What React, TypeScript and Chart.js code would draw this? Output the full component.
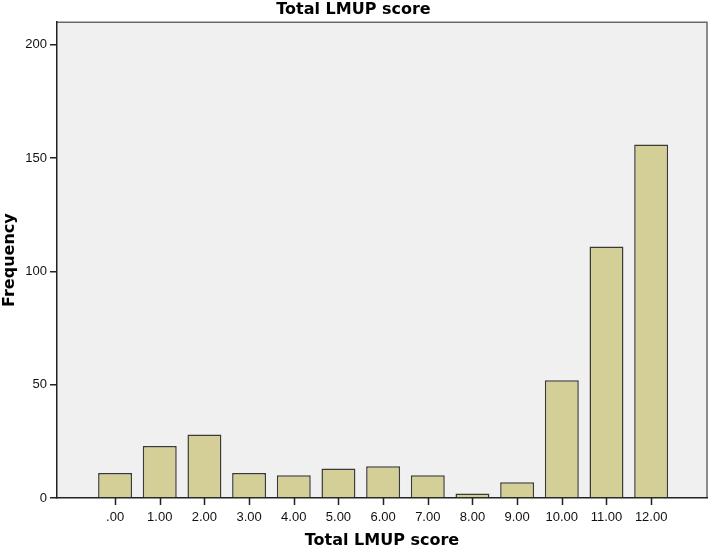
import React, { useEffect, useRef } from "react";
import { Chart, registerables } from "chart.js";

Chart.register(...registerables);

const categories = [0, 1, 2, 3, 4, 5, 6, 7, 8, 9, 10, 11, 12];
const frequencies = [11, 23, 28, 11, 10, 13, 14, 10, 2, 7, 52, 111, 156];
const yTicks = [0, 50, 100, 150, 200];
const formatCat = (v: number) => (v === 0 ? ".00" : v.toFixed(2));

const ARIAL = "'Liberation Sans', Arial, sans-serif";
const DEJAVU = "'DejaVu Sans', Verdana, sans-serif";

const plotFrame = {
  id: "plotFrame",
  beforeDraw(chart: any) {
    const { ctx, chartArea } = chart;
    const { left, top, right, bottom } = chartArea;
    ctx.save();
    ctx.fillStyle = "#f0f0f0";
    ctx.fillRect(left, top, right - left, bottom - top);
    ctx.strokeStyle = "#6a6a6a";
    ctx.lineWidth = 1.5;
    ctx.beginPath();
    ctx.moveTo(left, top);
    ctx.lineTo(right, top);
    ctx.lineTo(right, bottom);
    ctx.stroke();
    ctx.restore();
  },
  afterDraw(chart: any) {
    const { ctx, chartArea } = chart;
    const xs = chart.scales.x;
    ctx.save();
    ctx.strokeStyle = "#222";
    ctx.lineWidth = 1.5;
    ctx.beginPath();
    categories.forEach((c) => {
      const px = Math.round(xs.getPixelForValue(c)) + 0.5;
      ctx.moveTo(px, chartArea.bottom);
      ctx.lineTo(px, chartArea.bottom + 7);
    });
    ctx.stroke();
    ctx.restore();
  },
};

export default function App() {
  const ref = useRef<HTMLCanvasElement | null>(null);
  useEffect(() => {
    document.body.style.margin = "0";
    const canvas = ref.current!;
    const chart = new Chart(canvas, {
      type: "bar",
      data: {
        datasets: [
          {
            label: "Frequency",
            data: categories.map((c, i) => ({ x: c, y: frequencies[i] })),
            backgroundColor: "#d3cf97",
            borderColor: "#3a3a3a",
            borderWidth: 1.5,
            barPercentage: 0.76,
            categoryPercentage: 1,
          },
        ],
      },
      options: {
        responsive: false,
        animation: false,
        layout: { padding: { left: 0, right: 2, top: 0, bottom: 0 } },
        plugins: {
          legend: { display: false },
          tooltip: { enabled: false },
          title: {
            display: true,
            text: "Total LMUP score",
            color: "#000",
            font: { family: DEJAVU, size: 16, weight: "bold" },
            padding: { top: 0, bottom: 3 },
          },
        },
        scales: {
          x: {
            type: "linear",
            offset: false,
            min: -1.3,
            max: 13.25,
            afterBuildTicks: (scale: any) => {
              scale.ticks = categories.map((v) => ({ value: v }));
            },
            afterFit: (scale: any) => {
              scale.height = 52;
            },
            ticks: {
              autoSkip: false,
              maxRotation: 0,
              color: "#111",
              padding: 5,
              font: { family: ARIAL, size: 13 },
              callback: (v: any) => formatCat(Number(v)),
            },
            grid: {
              display: false,
              drawOnChartArea: false,
              tickLength: 7,
            },
            border: { display: true, color: "#222", width: 1.5 },
            title: {
              display: true,
              text: "Total LMUP score",
              color: "#000",
              font: { family: DEJAVU, size: 16, weight: "bold" },
              padding: { top: 0, bottom: 0 },
            },
          },
          y: {
            min: 0,
            max: 210,
            afterBuildTicks: (scale: any) => {
              scale.ticks = yTicks.map((v) => ({ value: v }));
            },
            afterFit: (scale: any) => {
              scale.width = 57;
            },
            ticks: {
              color: "#111",
              padding: 3,
              font: { family: ARIAL, size: 13 },
            },
            grid: {
              display: true,
              drawOnChartArea: false,
              drawTicks: true,
              tickLength: 7,
              tickColor: "#222",
              tickWidth: 1.5,
              color: "#222",
              lineWidth: 1.5,
            },
            border: { display: true, color: "#222", width: 1.5 },
            title: {
              display: true,
              text: "Frequency",
              color: "#000",
              font: { family: DEJAVU, size: 16, weight: "bold" },
              padding: { top: 0, bottom: 0 },
            },
          },
        },
      },
      plugins: [plotFrame],
    } as any);
    return () => chart.destroy();
  }, []);
  return <canvas ref={ref} width={709} height={550} style={{ display: "block" }} />;
}
